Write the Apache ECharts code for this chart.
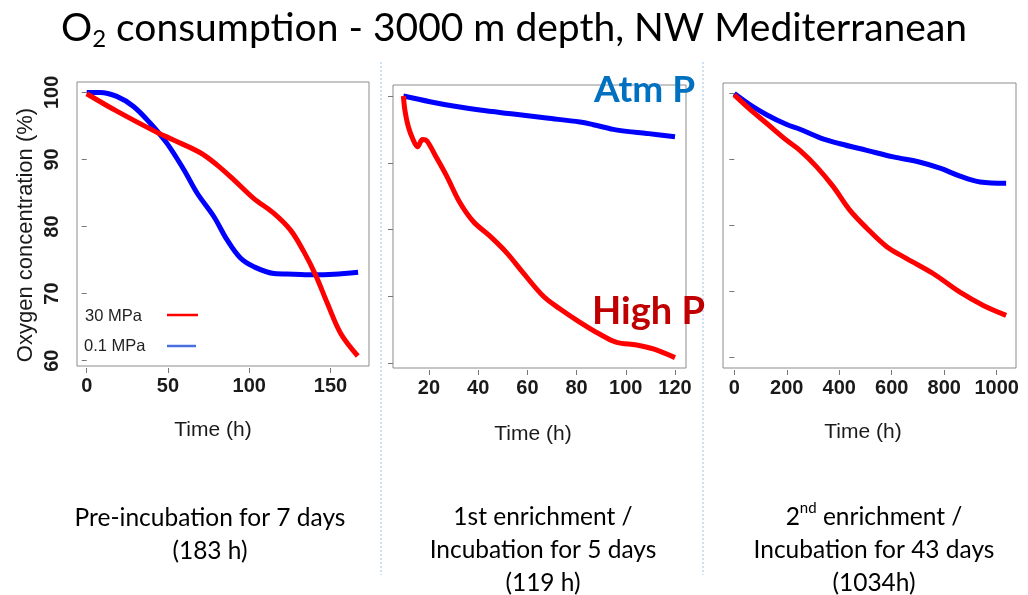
<!DOCTYPE html>
<html>
<head>
<meta charset="utf-8">
<script src="https://cdn.jsdelivr.net/npm/echarts@6/dist/echarts.min.js"></script>
<style>
html,body{margin:0;padding:0;background:#fff;}
#chart{width:1028px;height:595px;}
</style>
</head>
<body>
<div id="chart"></div>
<script>
// ---- Panel 1: Pre-incubation (h, % O2)
const p1HoursHigh = [0, 18.5, 41.1, 53.4, 69.9, 80.1, 90.4, 102.7, 115.0, 125.3, 133.5, 140.8, 148.0, 156.2, 166.8];
const p1O2High    = [99.8, 97.2, 94.3, 92.9, 91.0, 89.2, 87.0, 84.2, 82.0, 79.5, 76.3, 72.8, 68.6, 64.1, 60.7];
const p1HoursAtm  = [0, 8.2, 18.5, 28.8, 39.1, 49.4, 59.7, 67.9, 78.2, 86.4, 94.6, 102.9, 115.2, 127.5, 139.9, 152.2, 167];
const p1O2Atm     = [100, 100, 99.4, 97.9, 95.4, 92.4, 88.5, 85.0, 81.5, 78.0, 75.3, 74.0, 73.0, 72.9, 72.8, 72.9, 73.2];

// ---- Panel 2: 1st enrichment
const p2HoursHigh = [9.6, 10.2, 11.6, 13.6, 15.3, 17.4, 19.1, 22.4, 27.2, 32.6, 38.0, 44.8, 51.6, 58.3, 66.5, 73.3, 81.4, 89.5, 96.3, 104.4, 111.2, 120];
const p2O2High    = [100, 97.9, 95.4, 93.4, 92.4, 93.5, 93.3, 91.2, 88.0, 84.0, 81.2, 79.0, 76.5, 73.5, 70.0, 68.1, 66.1, 64.3, 63.1, 62.7, 62.1, 60.8];
const p2HoursAtm  = [9.6, 20.4, 29.9, 40.7, 54.3, 67.8, 81.4, 86.8, 94.9, 100.4, 108.5, 120];
const p2O2Atm     = [100, 99.15, 98.5, 97.9, 97.3, 96.7, 96.1, 95.7, 95.0, 94.7, 94.4, 93.9];

// ---- Panel 3: 2nd enrichment
const p3HoursHigh = [0, 60, 123, 200, 250, 314, 377, 441, 505, 581, 657, 759, 860, 949, 1036];
const p3O2High    = [99.8, 97.6, 95.5, 92.9, 91.4, 88.9, 85.9, 82.3, 79.6, 76.8, 75.0, 72.7, 69.9, 67.9, 66.4];
const p3HoursAtm  = [0, 60, 123, 200, 250, 327, 403, 505, 606, 708, 784, 860, 937, 1036];
const p3O2Atm     = [100, 98.3, 96.8, 95.3, 94.6, 93.3, 92.4, 91.4, 90.4, 89.6, 88.7, 87.5, 86.6, 86.4];

// ---- Tick labels
const yTicks  = [60, 70, 80, 90, 100];
const x1Ticks = [0, 50, 100, 150];
const x2Ticks = [20, 40, 60, 80, 100, 120];
const x3Ticks = [0, 200, 400, 600, 800, 1000];

const seriesHigh = '30 MPa';
const seriesAtm  = '0.1 MPa';

const pair = (xs, ys) => xs.map((x, i) => [x, ys[i]]);

const chart = echarts.init(document.getElementById('chart'), null, {renderer: 'canvas'});

const tickFont = {fontFamily: 'Liberation Sans', fontSize: 20, fontWeight: 'bold', color: '#1a1a1a'};
const nameFont = {fontFamily: 'Liberation Sans', fontSize: 21, color: '#1a1a1a'};
const plainNum = v => String(v);

function xAxisFor(idx, min, max, ticks, padRight, gap) {
  return {
    type: 'value', gridIndex: idx, min: min, max: max, offset: 2,
    axisLine: {show: false},
    splitLine: {show: false},
    axisTick: {show: true, customValues: ticks, length: 5, lineStyle: {color: '#777'}},
    axisLabel: Object.assign({customValues: ticks, margin: 8, formatter: plainNum}, tickFont),
    name: 'Time (h)', nameLocation: 'middle', nameGap: gap,
    nameTextStyle: Object.assign({padding: [0, padRight, 0, 0]}, nameFont)
  };
}
function yAxisFor(idx, min, max, withLabels) {
  const ax = {
    type: 'value', gridIndex: idx, min: min, max: max,
    axisLine: {show: false},
    splitLine: {show: false},
    axisTick: {show: true, customValues: yTicks, length: 5, lineStyle: {color: '#777'}},
    axisLabel: withLabels ? Object.assign({customValues: yTicks, rotate: 90, margin: 15, formatter: plainNum}, tickFont) : {show: false}
  };
  if (withLabels) {
    ax.name = 'Oxygen concentration (%)';
    ax.nameLocation = 'middle';
    ax.nameGap = 40;
    ax.nameRotate = 90;
    ax.nameTextStyle = {fontFamily: 'Liberation Sans', fontSize: 22, color: '#1a1a1a', padding: [0, 22, 0, 0]};
  }
  return ax;
}
function line(name, idx, data, color) {
  return {
    name: name, type: 'line', xAxisIndex: idx, yAxisIndex: idx,
    data: data, smooth: 0.35, showSymbol: false, symbol: 'none',
    lineStyle: {color: color, width: 5}, itemStyle: {color: color}
  };
}

const gridBase = {show: true, borderColor: '#8c8c8c', borderWidth: 1, backgroundColor: 'transparent', containLabel: false};

const option = {
  animation: false,
  backgroundColor: '#ffffff',
  title: {
    text: '{a|O}{sub|2}{a| consumption - 3000 m depth, NW Mediterranean}',
    left: 'center', top: 0,
    textStyle: {
      fontWeight: 'normal',
      rich: {
        a: {fontFamily: 'Lato', fontSize: 39, fontWeight: 'normal', color: '#000', lineHeight: 46},
        sub: {fontFamily: 'Lato', fontSize: 24, fontWeight: 'normal', color: '#000', lineHeight: 24, verticalAlign: 'bottom'}
      }
    }
  },
  grid: [
    Object.assign({left: 77, top: 82, width: 292, height: 284}, gridBase),
    Object.assign({left: 393, top: 85, width: 293, height: 283}, gridBase),
    Object.assign({left: 723, top: 83, width: 293, height: 285}, gridBase)
  ],
  xAxis: [
    xAxisFor(0, -5.98, 173.7, x1Ticks, 20, 52),
    xAxisFor(1, 5.37, 124.47, x2Ticks, 13, 54),
    xAxisFor(2, -43.1, 1073.6, x3Ticks, 13, 52)
  ],
  yAxis: [
    yAxisFor(0, 59.21, 101.55, true),
    yAxisFor(1, 59.25, 101.65, false),
    yAxisFor(2, 58.42, 101.6, false)
  ],
  series: [
    line(seriesAtm, 0, pair(p1HoursAtm, p1O2Atm), '#0000ff'),
    line(seriesHigh, 0, pair(p1HoursHigh, p1O2High), '#ff0000'),
    line(seriesAtm, 1, pair(p2HoursAtm, p2O2Atm), '#0000ff'),
    line(seriesHigh, 1, pair(p2HoursHigh, p2O2High), '#ff0000'),
    line(seriesAtm, 2, pair(p3HoursAtm, p3O2Atm), '#0000ff'),
    line(seriesHigh, 2, pair(p3HoursHigh, p3O2High), '#ff0000')
  ],
  graphic: [
    {type: 'line', shape: {x1: 381, y1: 62, x2: 381, y2: 575}, style: {stroke: '#9dc3e6', lineWidth: 1, lineDash: [2, 2]}},
    {type: 'line', shape: {x1: 703, y1: 62, x2: 703, y2: 575}, style: {stroke: '#9dc3e6', lineWidth: 1, lineDash: [2, 2]}},
    // legend of panel 1
    {type: 'text', x: 85, y: 316, style: {text: seriesHigh, fill: '#222', font: '16.5px "Liberation Sans"', verticalAlign: 'middle'}},
    {type: 'line', shape: {x1: 167, y1: 315, x2: 198, y2: 315}, style: {stroke: '#ff0000', lineWidth: 2.5}},
    {type: 'text', x: 84, y: 346, style: {text: seriesAtm, fill: '#222', font: '16.5px "Liberation Sans"', verticalAlign: 'middle'}},
    {type: 'line', shape: {x1: 167, y1: 346, x2: 196, y2: 346}, style: {stroke: '#4a6fe0', lineWidth: 2.5}},
    // annotations
    {type: 'text', left: 594, top: 72, style: {text: 'Atm P', fill: '#0070c0', font: 'bold 37px Lato'}},
    {type: 'text', left: 592, top: 293, style: {text: 'High P', fill: '#c00000', font: 'bold 38px Lato'}},
    // captions
    {type: 'text', x: 210, y: 535, style: {text: 'Pre-incubation for 7 days\n(183 h)', fill: '#000', font: '24.5px Lato', align: 'center', verticalAlign: 'middle', lineHeight: 33}},
    {type: 'text', x: 543, y: 550, style: {text: '1st enrichment /\nIncubation for 5 days\n(119 h)', fill: '#000', font: '24.5px Lato', align: 'center', verticalAlign: 'middle', lineHeight: 33}},
    {type: 'text', x: 874, y: 550, style: {
      text: '{t|2}{sup|nd}{t| enrichment /}\n{t|Incubation for 43 days}\n{t|(1034h)}',
      align: 'center', verticalAlign: 'middle',
      rich: {
        t: {fontFamily: 'Lato', fontSize: 24.5, fill: '#000', lineHeight: 33},
        sup: {fontFamily: 'Lato', fontSize: 15, fill: '#000', lineHeight: 15, verticalAlign: 'top'}
      }
    }}
  ]
};
chart.setOption(option);
</script>
</body>
</html>
